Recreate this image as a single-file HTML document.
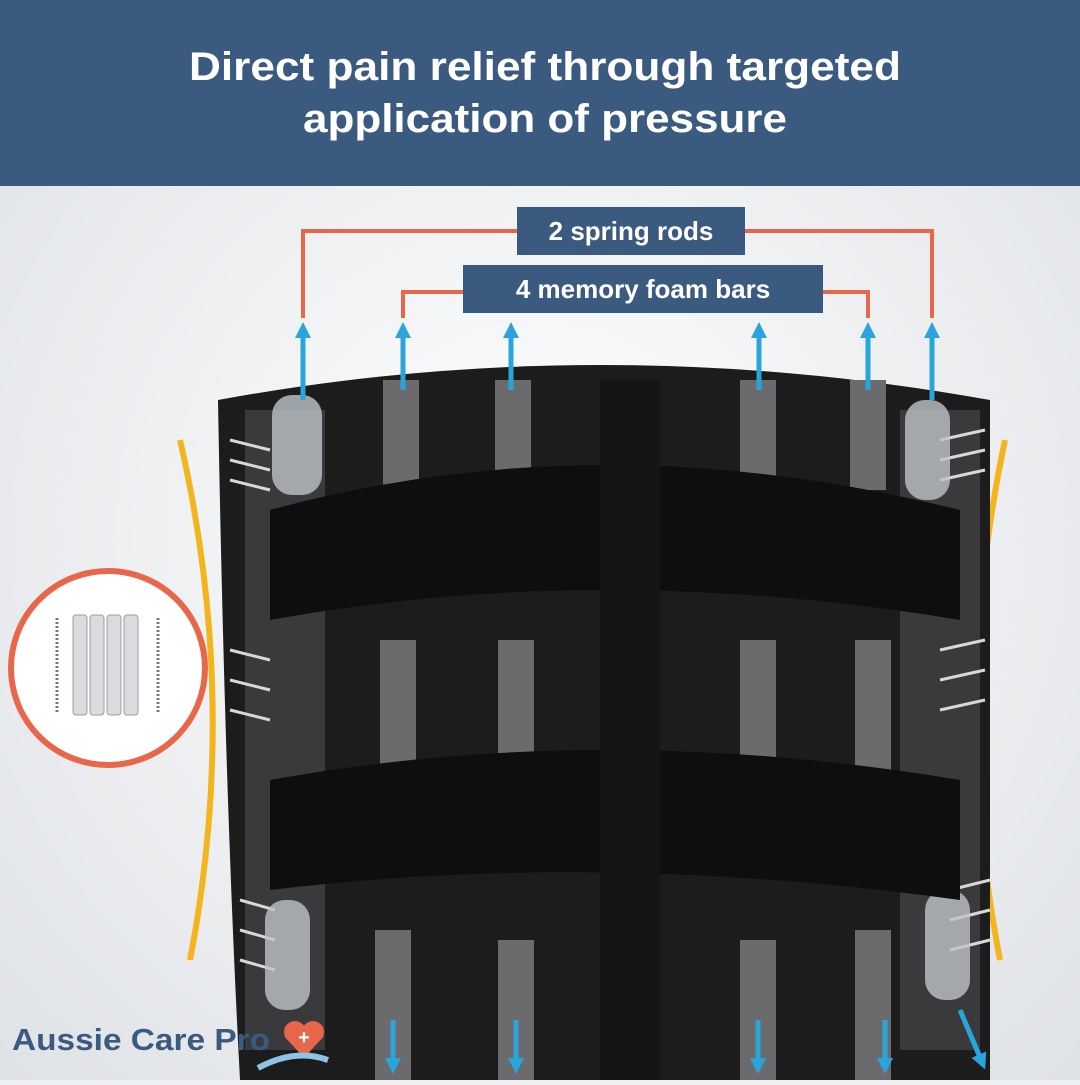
<!DOCTYPE html>
<html><head><meta charset="utf-8"><style>
body{margin:0;width:1080px;height:1080px;overflow:hidden;font-family:"Liberation Sans",sans-serif;background:#eef0f2}
</style></head><body>
<svg width="1080" height="1080" viewBox="0 0 1080 1080" xmlns="http://www.w3.org/2000/svg">
<defs>
<radialGradient id="bg" cx="0.5" cy="0.5" r="0.7"><stop offset="0" stop-color="#ffffff"/><stop offset="1" stop-color="#dfe2e6"/></radialGradient>
<marker id="ar" markerUnits="userSpaceOnUse" markerWidth="16" markerHeight="16" refX="8" refY="8" orient="auto"><path d="M0,0 L16,8 L0,16z" fill="#2aa5dc"/></marker>
</defs>
<rect width="1080" height="1080" fill="url(#bg)"/>
<rect width="1080" height="186" fill="#3b5a80"/>
<text x="545" y="80" text-anchor="middle" fill="#fff" font-size="40" font-weight="bold" textLength="712" lengthAdjust="spacingAndGlyphs">Direct pain relief through targeted</text>
<text x="545" y="132" text-anchor="middle" fill="#fff" font-size="40" font-weight="bold" textLength="484" lengthAdjust="spacingAndGlyphs">application of pressure</text>
<path d="M180,440 Q240,700 190,960" stroke="#f2b51d" stroke-width="6" fill="none"/>
<path d="M1005,440 Q950,700 1000,960" stroke="#f2b51d" stroke-width="6" fill="none"/>
<path d="M218,400 Q600,330 990,400 L990,1080 L240,1080 Q225,800 218,400z" fill="#1c1c1d"/>
<g fill="#3a3a3c">
<rect x="245" y="410" width="80" height="640"/><rect x="900" y="410" width="80" height="640"/>
</g>
<g stroke="#d8d8d8" stroke-width="3">
<line x1="230" y1="440" x2="270" y2="450"/><line x1="230" y1="460" x2="270" y2="470"/><line x1="230" y1="480" x2="270" y2="490"/>
<line x1="940" y1="440" x2="985" y2="430"/><line x1="940" y1="460" x2="985" y2="450"/><line x1="940" y1="480" x2="985" y2="470"/>
<line x1="230" y1="650" x2="270" y2="660"/><line x1="230" y1="680" x2="270" y2="690"/><line x1="230" y1="710" x2="270" y2="720"/>
<line x1="940" y1="650" x2="985" y2="640"/><line x1="940" y1="680" x2="985" y2="670"/><line x1="940" y1="710" x2="985" y2="700"/>
<line x1="240" y1="900" x2="275" y2="910"/><line x1="240" y1="930" x2="275" y2="940"/><line x1="240" y1="960" x2="275" y2="970"/>
<line x1="950" y1="890" x2="990" y2="880"/><line x1="950" y1="920" x2="990" y2="910"/><line x1="950" y1="950" x2="990" y2="940"/>
</g>
<g fill="#6b6b6d">
<rect x="383" y="380" width="36" height="110"/><rect x="495" y="380" width="36" height="110"/>
<rect x="740" y="380" width="36" height="110"/><rect x="850" y="380" width="36" height="110"/>
<rect x="380" y="640" width="36" height="130"/><rect x="498" y="640" width="36" height="130"/>
<rect x="740" y="640" width="36" height="130"/><rect x="855" y="640" width="36" height="130"/>
<rect x="375" y="930" width="36" height="150"/><rect x="498" y="940" width="36" height="140"/>
<rect x="740" y="940" width="36" height="140"/><rect x="855" y="930" width="36" height="150"/>
</g>
<g fill="#bfc3c8" opacity="0.8">
<rect x="272" y="395" width="50" height="100" rx="20"/><rect x="905" y="400" width="45" height="100" rx="20"/>
<rect x="265" y="900" width="45" height="110" rx="20"/><rect x="925" y="890" width="45" height="110" rx="20"/>
</g>
<path d="M270,510 Q600,420 960,510 L960,620 Q600,560 270,620z" fill="#0e0e0f"/>
<path d="M270,780 Q600,720 960,780 L960,900 Q600,850 270,890z" fill="#0e0e0f"/>
<rect x="600" y="380" width="60" height="700" fill="#151516"/>
<g stroke="#e8674a" stroke-width="4" fill="none">
<path d="M303,318 V231 H517"/><path d="M745,231 H932 V318"/>
<path d="M403,318 V292 H463"/><path d="M823,292 H868 V318"/>
</g>
<rect x="517" y="207" width="228" height="48" fill="#3b5a80"/>
<text x="631" y="240" text-anchor="middle" fill="#fff" font-size="26" font-weight="bold">2 spring rods</text>
<rect x="463" y="265" width="360" height="48" fill="#3b5a80"/>
<text x="643" y="298" text-anchor="middle" fill="#fff" font-size="26" font-weight="bold">4 memory foam bars</text>
<g stroke="#2aa5dc" stroke-width="5" marker-end="url(#ar)">
<line x1="303" y1="400" x2="303" y2="330"/><line x1="403" y1="390" x2="403" y2="330"/><line x1="511" y1="390" x2="511" y2="330"/>
<line x1="759" y1="390" x2="759" y2="330"/><line x1="868" y1="390" x2="868" y2="330"/><line x1="932" y1="400" x2="932" y2="330"/>
<line x1="393" y1="1020" x2="393" y2="1066"/><line x1="516" y1="1020" x2="516" y2="1066"/><line x1="758" y1="1020" x2="758" y2="1066"/>
<line x1="885" y1="1020" x2="885" y2="1066"/><line x1="960" y1="1010" x2="982" y2="1062"/>
</g>
<circle cx="108" cy="668" r="97" fill="#fff" stroke="#e8674a" stroke-width="6"/>
<g fill="#d9dbde" stroke="#9a9ea3" stroke-width="1">
<rect x="73" y="615" width="14" height="100" rx="3"/><rect x="90" y="615" width="14" height="100" rx="3"/>
<rect x="107" y="615" width="14" height="100" rx="3"/><rect x="124" y="615" width="14" height="100" rx="3"/>
</g>
<g stroke="#777" stroke-width="3" stroke-dasharray="2 2"><line x1="57" y1="618" x2="57" y2="712"/><line x1="158" y1="618" x2="158" y2="712"/></g>
<text x="12" y="1050" fill="#3b5a80" font-size="31" font-weight="bold" textLength="258" lengthAdjust="spacingAndGlyphs">Aussie Care Pro</text>
<circle cx="295" cy="1032" r="11" fill="#e8674a"/><circle cx="313" cy="1032" r="11" fill="#e8674a"/>
<path d="M285,1037 L304,1058 L323,1037z" fill="#e8674a"/>
<text x="304" y="1044" text-anchor="middle" fill="#fff" font-size="20" font-weight="bold">+</text>
<path d="M258,1068 Q295,1048 328,1060" stroke="#8fc3e6" stroke-width="6" fill="none"/>
</svg>
</body></html>
